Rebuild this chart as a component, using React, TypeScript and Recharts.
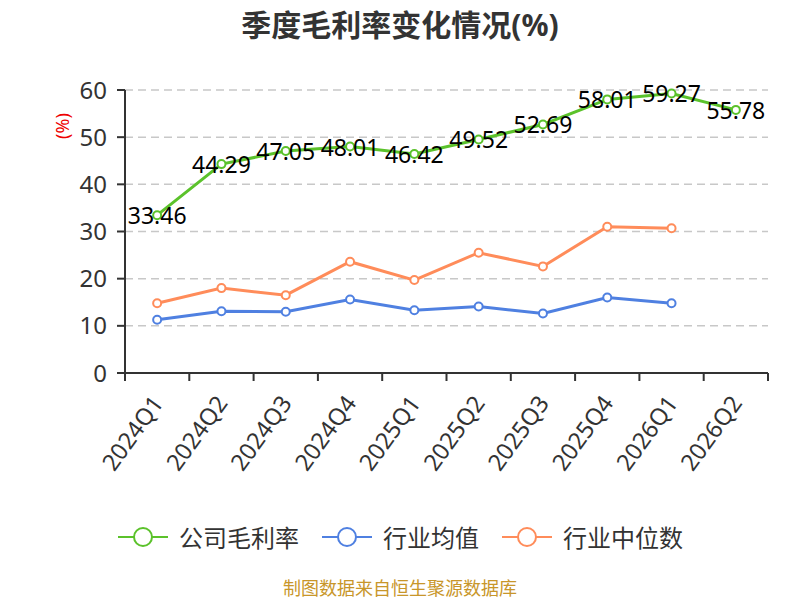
import React from 'react';
import { CartesianGrid, Line, LineChart, XAxis, YAxis } from 'recharts';

/* ------------------------------------------------------------------ */
/*  Data                                                              */
/* ------------------------------------------------------------------ */

const quarters = [
  '2024Q1', '2024Q2', '2024Q3', '2024Q4', '2025Q1',
  '2025Q2', '2025Q3', '2025Q4', '2026Q1', '2026Q2',
];
const grossMargin = [33.46, 44.29, 47.05, 48.01, 46.42, 49.52, 52.69, 58.01, 59.27, 55.78];
const industryAvg = [11.3, 13.1, 13.0, 15.6, 13.3, 14.1, 12.6, 16.0, 14.8];
const industryMedian = [14.8, 18.0, 16.5, 23.6, 19.7, 25.5, 22.6, 31.0, 30.7];
const yTicks = [0, 10, 20, 30, 40, 50, 60];

const GREEN = '#5bc22b';
const BLUE = '#4f80e1';
const ORANGE = '#ff8c5a';
const FONT = '"Noto Sans", "Noto Sans CJK SC", sans-serif';

const rows = quarters.map((q, i) => ({
  pos: i + 0.5,
  quarter: q,
  gross: grossMargin[i],
  avg: industryAvg[i],
  median: industryMedian[i],
}));

const edgeTicks = quarters.map((_, i) => i).concat(quarters.length);

/* ------------------------------------------------------------------ */
/*  Ticks and labels                                                  */
/* ------------------------------------------------------------------ */

function QuarterTick(props: any) {
  const { x, y, index, width } = props;
  const half = (width || 643) / quarters.length / 2;
  const label = quarters[index];
  return (
    <g>
      <line x1={x} y1={y - 8} x2={x} y2={y} stroke="#333" strokeWidth={2} />
      {label && (
        <g transform={`translate(${x + half},${y + 17})`}>
          <text
            transform="rotate(-54)"
            textAnchor="end"
            dominantBaseline="central"
            fontSize={23.5}
            fill="#333"
            fontFamily={FONT}
          >
            {label}
          </text>
        </g>
      )}
    </g>
  );
}

function GrossLabel(props: any) {
  const { x, y, value } = props;
  return (
    <text
      x={x}
      y={y}
      textAnchor="middle"
      dominantBaseline="central"
      fontSize={23}
      fill="#000"
      fontFamily={FONT}
    >
      {Number(value).toFixed(2)}
    </text>
  );
}

function LegendItem({ color, text }: { color: string; text: string }) {
  return (
    <div style={{ display: 'flex', alignItems: 'center', marginRight: 22 }}>
      <svg width={52} height={24}>
        <line x1={1} y1={12} x2={51} y2={12} stroke={color} strokeWidth={2} />
        <circle cx={26} cy={12} r={9} fill="#fff" stroke={color} strokeWidth={2} />
      </svg>
      <span style={{ marginLeft: 10, fontSize: 24, color: '#333' }}>{text}</span>
    </div>
  );
}

/* ------------------------------------------------------------------ */
/*  App                                                               */
/* ------------------------------------------------------------------ */

export default function App() {
  return (
    <div
      style={{
        position: 'absolute',
        left: 0,
        top: 0,
        width: 800,
        height: 600,
        background: '#fff',
        fontFamily: FONT,
      }}
    >
      <div
        style={{
          position: 'absolute',
          top: 1,
          width: 800,
          textAlign: 'center',
          fontSize: 30,
          fontWeight: 700,
          color: '#333',
        }}
      >
        季度毛利率变化情况(%)
      </div>

      <LineChart
        width={800}
        height={600}
        data={rows}
        margin={{ top: 90, right: 32, bottom: 127, left: 0 }}
      >
        <CartesianGrid
          vertical={false}
          horizontalValues={[10, 20, 30, 40, 50, 60]}
          stroke="#c8c8c8"
          strokeDasharray="8 5"
          strokeWidth={1.5}
        />
        <XAxis
          dataKey="pos"
          type="number"
          domain={[0, quarters.length]}
          ticks={edgeTicks}
          interval={0}
          height={100}
          axisLine={{ stroke: '#333', strokeWidth: 2 }}
          tickLine={false}
          tick={<QuarterTick />}
        />
        <YAxis
          domain={[0, 60]}
          ticks={yTicks}
          interval={0}
          width={125}
          axisLine={{ stroke: '#333', strokeWidth: 2 }}
          tickLine={{ stroke: '#333', strokeWidth: 2 }}
          tickSize={8}
          tickMargin={10}
          tick={{ fontSize: 24, fill: '#333', fontFamily: FONT }}
        />
        <Line
          dataKey="median"
          type="linear"
          stroke={ORANGE}
          strokeWidth={3}
          dot={{ r: 4, fill: '#fff', stroke: ORANGE, strokeWidth: 2 }}
          isAnimationActive={false}
        />
        <Line
          dataKey="avg"
          type="linear"
          stroke={BLUE}
          strokeWidth={3}
          dot={{ r: 4, fill: '#fff', stroke: BLUE, strokeWidth: 2 }}
          isAnimationActive={false}
        />
        <Line
          dataKey="gross"
          type="linear"
          stroke={GREEN}
          strokeWidth={3}
          dot={{ r: 4, fill: '#fff', stroke: GREEN, strokeWidth: 2 }}
          label={<GrossLabel />}
          isAnimationActive={false}
        />
      </LineChart>

      <div
        style={{
          position: 'absolute',
          left: 62,
          top: 126,
          transform: 'translate(-50%,-50%) rotate(-90deg)',
          fontSize: 18,
          color: '#e00',
          whiteSpace: 'nowrap',
        }}
      >
        (%)
      </div>

      <div
        style={{
          position: 'absolute',
          top: 519,
          left: 0,
          width: 800,
          display: 'flex',
          justifyContent: 'center',
          paddingLeft: 22,
          boxSizing: 'border-box',
        }}
      >
        <LegendItem color={GREEN} text="公司毛利率" />
        <LegendItem color={BLUE} text="行业均值" />
        <LegendItem color={ORANGE} text="行业中位数" />
      </div>

      <div
        style={{
          position: 'absolute',
          top: 574,
          width: 800,
          textAlign: 'center',
          fontSize: 18,
          color: '#c8962a',
        }}
      >
        制图数据来自恒生聚源数据库
      </div>
    </div>
  );
}
